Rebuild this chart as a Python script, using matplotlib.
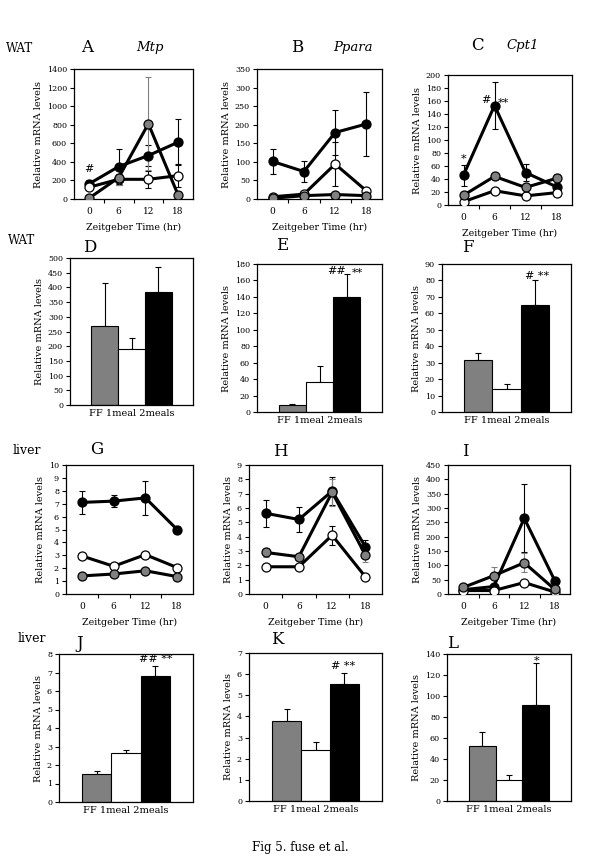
import matplotlib
matplotlib.use('Agg')
import matplotlib.pyplot as plt

plt.rcParams['font.family'] = 'DejaVu Serif'

zt = [0, 6, 12, 18]
groups = ['FF', '1meal', '2meals']

# WAT time course (A-C)
a_black = [162, 349, 468, 612]
a_black_err = [40, 190, 115, 250]
a_white = [126, 212, 212, 252]
a_white_err = [20, 60, 90, 120]
a_gray = [7, 230, 810, 43]
a_gray_err = [5, 80, 500, 30]

b_black = [101, 74, 179, 202]
b_black_err = [33, 29, 60, 86]
b_white = [6, 13, 94, 22]
b_white_err = [3, 5, 60, 5]
b_gray = [2, 9, 12, 9]
b_gray_err = [1, 3, 4, 3]

c_black = [46, 153, 50, 28]
c_black_err = [16, 36, 13, 5]
c_white = [5, 22, 14, 19]
c_white_err = [1, 2, 2, 2]
c_gray = [15, 44, 27, 41]
c_gray_err = [3, 5, 3, 6]

# liver time course (G-I)
g_black = [7.1, 7.2, 7.45, 5.0]
g_black_err = [0.9, 0.45, 1.3, 0.3]
g_white = [2.95, 2.15, 3.05, 2.05]
g_white_err = [0.05, 0.05, 0.05, 0.05]
g_gray = [1.4, 1.55, 1.8, 1.35]
g_gray_err = [0.05, 0.05, 0.05, 0.05]

h_black = [5.63, 5.2, 7.18, 3.3]
h_black_err = [0.95, 0.85, 0.95, 0.5]
h_white = [1.9, 1.9, 4.1, 1.2]
h_white_err = [0.05, 0.05, 0.65, 0.05]
h_gray = [2.9, 2.6, 7.1, 2.72]
h_gray_err = [0.3, 0.1, 0.95, 0.5]

i_black = [15, 26, 264, 47]
i_black_err = [3, 5, 118, 8]
i_white = [12, 12, 40, 7]
i_white_err = [2, 2, 5, 1]
i_gray = [23, 64, 109, 16]
i_gray_err = [4, 29, 33, 4]

# bar panels: FF, 1meal, 2meals
d_vals = [270, 192, 385]
d_err = [145, 37, 85]
e_vals = [8, 36, 139.5]
e_err = [2, 19.5, 28.5]
f_vals = [31.4, 14.1, 64.8]
f_err = [4.4, 2.7, 15.6]
j_vals = [1.53, 2.65, 6.82]
j_err = [0.13, 0.18, 0.54]
k_vals = [3.79, 2.43, 5.53]
k_err = [0.55, 0.35, 0.52]
l_vals = [52.4, 19.7, 91.4]
l_err = [13.7, 4.8, 39.7]

W, H = 600, 867
fig = plt.figure(figsize=(6, 8.67), dpi=100)


def box(l, t, r, b):
    return fig.add_axes([l / W, 1 - b / H, (r - l) / W, (b - t) / H])


def style(ax, ymax, step):
    ax.set_ylim(0, ymax)
    ax.set_yticks([step * k for k in range(int(round(ymax / step)) + 1)])
    ax.tick_params(axis='y', direction='out', length=3, width=0.8, labelsize=5.8, pad=2)
    for s in ax.spines.values():
        s.set_linewidth(0.9)
    ax.set_ylabel('Relative mRNA levels', fontsize=7, labelpad=3)


def line_panel(ax, series, ymax, step):
    pos = list(range(len(zt)))
    for vals, errs, col in series:
        ecol = '#808080' if col == '#808080' else 'black'
        ax.errorbar(pos, vals, yerr=errs, fmt='none', ecolor=ecol, elinewidth=0.8,
                    capsize=2, capthick=0.8, zorder=2)
        ax.plot(pos, vals, '-o', color='black', lw=2.2, markersize=6.5,
                markerfacecolor=col, markeredgecolor='black', markeredgewidth=0.9, zorder=3)
    ax.set_xlim(-0.5, 3.5)
    ax.set_xticks(pos)
    ax.set_xticklabels([str(z) for z in zt])
    ax.set_xticks([0.5, 1.5, 2.5], minor=True)
    ax.tick_params(axis='x', which='major', length=0, labelsize=6.5, pad=6)
    ax.tick_params(axis='x', which='minor', direction='out', length=3, width=0.8)
    ax.set_xlabel('Zeitgeber Time (hr)', fontsize=6.8, labelpad=5)
    style(ax, ymax, step)


def bar_panel(ax, vals, errs, ymax, step):
    pos = list(range(len(groups)))
    ax.bar(pos, vals, width=1.0, color=['#808080', 'white', 'black'],
           edgecolor='black', linewidth=0.8, zorder=2)
    ax.errorbar(pos, vals, yerr=[[0] * len(errs), errs], fmt='none', ecolor='black',
                elinewidth=0.8, capsize=2.5, capthick=0.8, zorder=1)
    ax.set_xlim(-1.3, 3.3)
    ax.set_xticks([])
    ax.set_xlabel(' '.join(groups), fontsize=7, labelpad=3)
    style(ax, ymax, step)


# row 1
axA = box(74, 69, 193, 199)
line_panel(axA, [(a_black, a_black_err, 'black'), (a_white, a_white_err, 'white'),
                 (a_gray, a_gray_err, '#808080')], 1400, 200)
axA.text(0, 290, '#', ha='center', fontsize=8)
axB = box(257, 69, 382, 199)
line_panel(axB, [(b_black, b_black_err, 'black'), (b_white, b_white_err, 'white'),
                 (b_gray, b_gray_err, '#808080')], 350, 50)
axC = box(448, 75, 572, 205)
line_panel(axC, [(c_black, c_black_err, 'black'), (c_white, c_white_err, 'white'),
                 (c_gray, c_gray_err, '#808080')], 200, 20)
axC.text(0, 66, '*', ha='center', fontsize=8)
axC.text(0.73, 157, '#', ha='center', fontsize=8)
axC.text(1.3, 153, '**', ha='center', fontsize=8)

# row 2
axD = box(70, 258, 193, 405)
bar_panel(axD, d_vals, d_err, 500, 50)
axE = box(257, 264, 382, 412)
bar_panel(axE, e_vals, e_err, 180, 20)
axE.text(1.64, 168, '##', ha='center', fontsize=8)
axE.text(2.41, 165, '**', ha='center', fontsize=8)
axF = box(442, 264, 571, 412)
bar_panel(axF, f_vals, f_err, 90, 10)
axF.text(2.09, 81, '# **', ha='center', fontsize=8)

# row 3
axG = box(66, 465, 193, 594)
line_panel(axG, [(g_black, g_black_err, 'black'), (g_white, g_white_err, 'white'),
                 (g_gray, g_gray_err, '#808080')], 10, 1)
axH = box(249, 465, 382, 594)
line_panel(axH, [(h_black, h_black_err, 'black'), (h_white, h_white_err, 'white'),
                 (h_gray, h_gray_err, '#808080')], 9, 1)
axI = box(448, 465, 570, 594)
line_panel(axI, [(i_black, i_black_err, 'black'), (i_white, i_white_err, 'white'),
                 (i_gray, i_gray_err, '#808080')], 450, 50)

# row 4
axJ = box(59, 654, 193, 802)
bar_panel(axJ, j_vals, j_err, 8, 1)
axJ.text(2.02, 7.55, '## **', ha='center', fontsize=8)
axK = box(249, 653, 382, 801)
bar_panel(axK, k_vals, k_err, 7, 1)
axK.text(1.95, 6.22, '# **', ha='center', fontsize=8)
axL = box(447, 654, 571, 801)
bar_panel(axL, l_vals, l_err, 140, 20)
axL.text(2.01, 131, '*', ha='center', fontsize=8)

# panel letters and labels
def ftext(x, y, s, **kw):
    fig.text(x / W, 1 - y / H, s, ha='center', va='center', **kw)


ftext(20, 48, 'WAT', fontsize=8.5)
ftext(87, 47, 'A', fontsize=12)
ftext(150, 47, 'Mtp', fontsize=9.5, style='italic')
ftext(297, 47, 'B', fontsize=12)
ftext(353, 47, 'Ppara', fontsize=9.5, style='italic')
ftext(477, 45, 'C', fontsize=12)
ftext(523, 45, 'Cpt1', fontsize=9.5, style='italic')

ftext(22, 240, 'WAT', fontsize=8.5)
ftext(90, 248, 'D', fontsize=12)
ftext(282, 245, 'E', fontsize=12)
ftext(468, 247, 'F', fontsize=12)

ftext(27, 451, 'liver', fontsize=9)
ftext(97, 449, 'G', fontsize=12)
ftext(280, 452, 'H', fontsize=12)
ftext(465, 452, 'I', fontsize=12)

ftext(32, 638, 'liver', fontsize=9)
ftext(80, 644, 'J', fontsize=12)
ftext(277, 640, 'K', fontsize=12)
ftext(453, 644, 'L', fontsize=12)

ftext(300, 848, 'Fig 5. fuse et al.', fontsize=8.5)

fig.savefig('out.png', dpi=100)
